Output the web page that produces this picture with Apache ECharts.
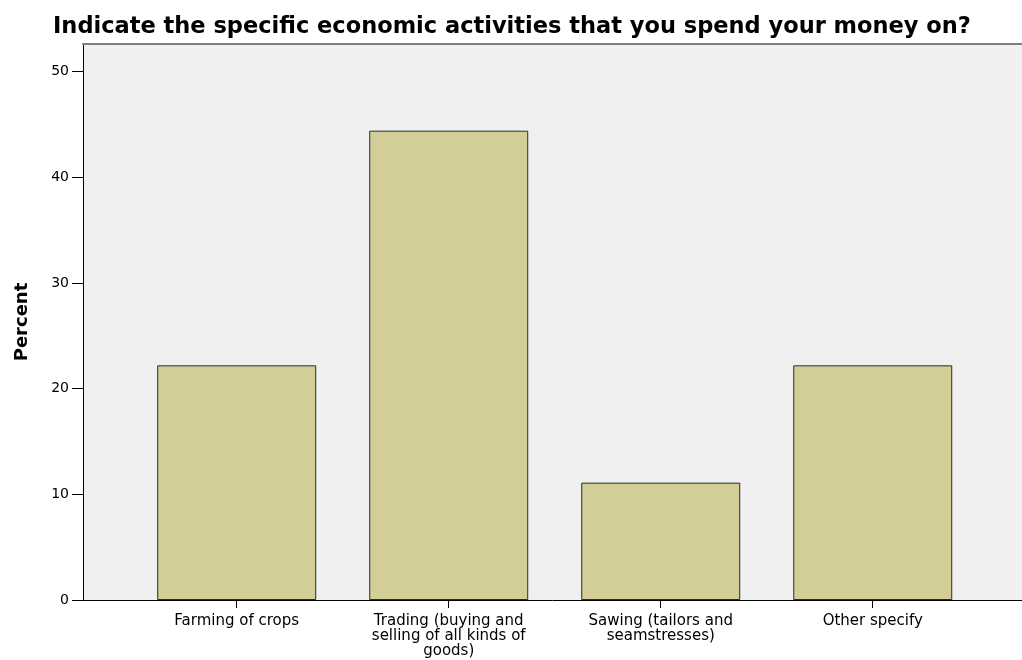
<!DOCTYPE html>
<html>
<head>
<meta charset="utf-8">
<script src="https://cdn.jsdelivr.net/npm/echarts@6/dist/echarts.min.js"></script>
<style>
  html, body { margin: 0; padding: 0; background: #ffffff; }
  #chart { width: 1022px; height: 660px; }
</style>
</head>
<body>
<div id="chart"></div>
<script>
// Survey responses: share of respondents per economic activity
const categories = [
  'Farming of crops',
  'Trading (buying and\nselling of all kinds of\ngoods)',
  'Sawing (tailors and\nseamstresses)',
  'Other specify'
];
const percentValues = [22.2, 44.4, 11.1, 22.2];
const yTickValues = [0, 10, 20, 30, 40, 50];

const categoryIndex = categories.map((_, i) => i);
const barData = percentValues.map((v, i) => [i, v]);

const FONT = 'DejaVu Sans, Verdana, sans-serif';

const chart = echarts.init(document.getElementById('chart'), null, { renderer: 'canvas' });

chart.setOption({
  animation: false,
  backgroundColor: '#ffffff',
  title: {
    text: 'Indicate the specific economic activities that you spend your money on?',
    left: 48,
    top: 11,
    textStyle: {
      fontFamily: FONT,
      fontWeight: 'bold',
      fontSize: 22.5,
      color: '#000000'
    }
  },
  grid: {
    left: 83,
    right: 0,
    top: 44,
    bottom: 60,
    show: true,
    backgroundColor: '#f0f0f0',
    borderWidth: 0
  },
  xAxis: [{
    type: 'value',
    position: 'bottom',
    min: -0.725,
    max: 3.704,
    splitLine: { show: false },
    axisLine: { show: true, onZero: false, lineStyle: { color: '#000000', width: 1 } },
    axisTick: {
      show: true,
      customValues: categoryIndex,
      length: 8,
      lineStyle: { color: '#000000', width: 1 }
    },
    axisLabel: {
      customValues: categoryIndex,
      formatter: (v) => categories[Math.round(v)],
      margin: 14,
      fontFamily: FONT,
      fontSize: 15,
      lineHeight: 15,
      color: '#000000',
      align: 'center'
    }
  }, {
    // plain grey frame line along the top of the plot
    type: 'value',
    position: 'top',
    min: -0.725,
    max: 3.704,
    splitLine: { show: false },
    axisLine: { show: true, onZero: false, lineStyle: { color: '#7f7f7f', width: 2 } },
    axisTick: { show: false },
    axisLabel: { show: false }
  }],
  yAxis: {
    type: 'value',
    min: 0,
    max: 52.6,
    interval: 10,
    name: 'Percent',
    nameLocation: 'middle',
    nameGap: 52,
    nameRotate: 90,
    nameTextStyle: {
      fontFamily: FONT,
      fontWeight: 'bold',
      fontSize: 18,
      color: '#000000'
    },
    splitLine: { show: false },
    axisLine: { show: true, onZero: false, lineStyle: { color: '#000000', width: 1 } },
    axisTick: {
      show: true,
      customValues: yTickValues,
      length: 11,
      lineStyle: { color: '#000000', width: 1 }
    },
    axisLabel: {
      customValues: yTickValues,
      margin: 14,
      fontFamily: FONT,
      fontSize: 14,
      color: '#000000'
    }
  },
  series: [{
    type: 'bar',
    xAxisIndex: 0,
    data: barData,
    barWidth: 159,
    itemStyle: {
      color: '#d3ce97',
      borderColor: '#2b2b2b',
      borderWidth: 1
    }
  }]
});
</script>
</body>
</html>
